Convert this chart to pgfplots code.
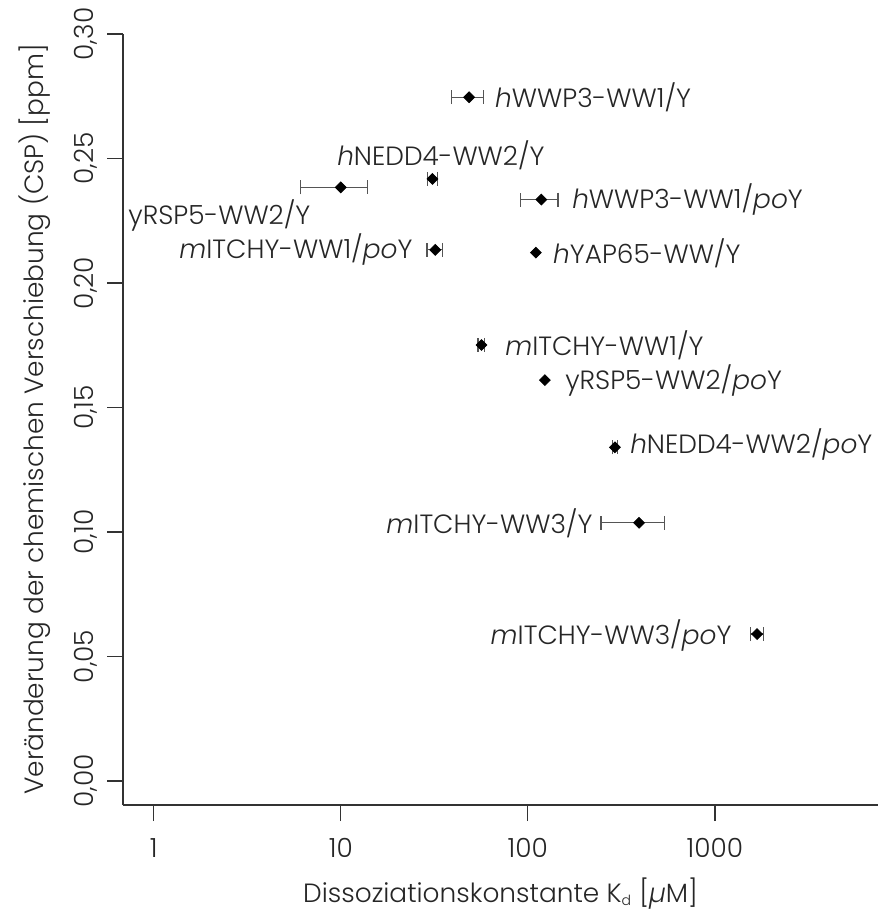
\documentclass[border=0pt]{standalone}
\usepackage{fontspec}
\setmainfont{Poppins}[UprightFont=* Light, ItalicFont=* Light Italic]
\usepackage{pgfplots}
\pgfplotsset{compat=1.18}
\definecolor{axgray}{HTML}{333333}
\definecolor{bargray}{HTML}{555555}
\begin{document}
\fontsize{13.2pt}{16pt}\selectfont
\begin{tikzpicture}
\begin{axis}[name=ax, scale only axis, width=377.5pt, height=385.5pt,
  xmode=log, xmin=0.685, xmax=7443, ymin=-0.00964, ymax=0.30,
  axis x line*=bottom, axis y line*=left,
  axis line style={-, axgray, line width=0.6pt},
  xtick={1,10,100,1000}, xticklabels={1,10,100,1000}, xminorticks=false,
  ytick={0,0.05,0.1,0.15,0.2,0.25,0.3},
  yticklabels={{0,00},{0,05},{0,10},{0,15},{0,20},{0,25},{0,30}},
  tick align=outside, major tick length=8pt,
  tick style={axgray, line width=0.6pt},
  yticklabel style={rotate=90, anchor=south, text=black!85},
  xticklabel style={text=black!85, yshift=-4pt},
  xlabel={Dissoziationskonstante K\textsubscript{\scriptsize d} [\textit{µ}M]},
  xlabel style={yshift=-1pt},
  ylabel={Veränderung der chemischen Verschiebung (CSP) [ppm]},
  ylabel style={yshift=3pt},
  label style={text=black!85},
  clip=false,
]
\addplot[only marks, mark=square*, mark size=1.9pt, mark options={rotate=45, fill=black, draw=black},
  error bars/.cd, x dir=both, x explicit,
  error bar style={bargray, line width=0.6pt},
  error mark options={bargray, mark size=3.5pt, line width=0.6pt, rotate=90}]
coordinates {
 (48.5,0.2746) +- (9.3,0)
 (30.9,0.2418) +- (1.9,0)
 (10.0,0.2384) +- (3.9,0)
 (118,0.2335) +- (27,0)
 (32,0.2133) +- (3.1,0)
 (56.5,0.1751) +- (2.4,0)
 (292,0.1340) +- (9,0)
 (393,0.1037) +- (147,0)
 (1680,0.0590) +- (130,0)
};
\addplot[only marks, mark=square*, mark size=1.9pt, mark options={rotate=45, fill=black, draw=black}]
coordinates {
 (110.4,0.2122)
 (123.3,0.1610)
};
\begin{scope}[every node/.style={inner sep=0pt, text=black!85}]
\node[anchor=west] at (axis cs:66.6,0.2747) {\textit{h}WWP3-WW1/Y};
\node[anchor=center] at (axis cs:34.3,0.2514) {\textit{h}NEDD4-WW2/Y};
\node[anchor=east] at (axis cs:6.91,0.2273) {yRSP5-WW2/Y};
\node[anchor=west] at (axis cs:171.9,0.2337) {\textit{h}WWP3-WW1/\textit{po}Y};
\node[anchor=east] at (axis cs:24.3,0.2133) {\textit{m}ITCHY-WW1/\textit{po}Y};
\node[anchor=west] at (axis cs:136,0.2120) {\textit{h}YAP65-WW/Y};
\node[anchor=west] at (axis cs:75.4,0.1751) {\textit{m}ITCHY-WW1/Y};
\node[anchor=west] at (axis cs:157.7,0.1610) {yRSP5-WW2/\textit{po}Y};
\node[anchor=west] at (axis cs:351,0.1350) {\textit{h}NEDD4-WW2/\textit{po}Y};
\node[anchor=east] at (axis cs:222.7,0.1036) {\textit{m}ITCHY-WW3/Y};
\node[anchor=east] at (axis cs:1233,0.0586) {\textit{m}ITCHY-WW3/\textit{po}Y};
\end{scope}
\end{axis}
\pgfresetboundingbox
\path[use as bounding box] ([xshift=-61.5pt,yshift=-53.5pt]ax.south west) rectangle ([xshift=3.5pt,yshift=17pt]ax.north east);
\end{tikzpicture}
\end{document}
